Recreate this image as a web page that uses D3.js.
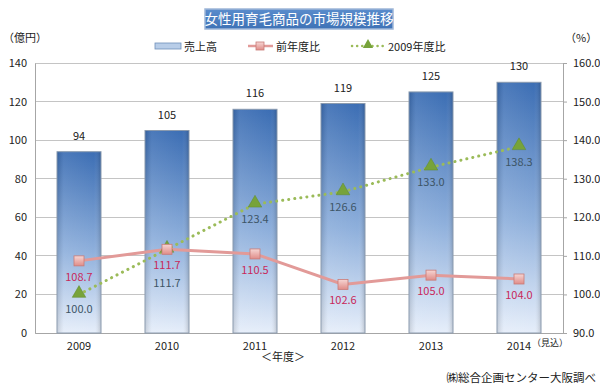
<!DOCTYPE html>
<html lang="ja">
<head>
<meta charset="UTF-8">
<title>女性用育毛商品の市場規模推移</title>
<script src="https://d3js.org/d3.v7.min.js"></script>
<style>
  body { margin: 0; background: #fff; font-family: "Noto Sans CJK JP", "Noto Sans", sans-serif; }
  svg text { font-family: "Noto Sans CJK JP", "Noto Sans", sans-serif; }
</style>
</head>
<body>
<script>
const years = ["2009", "2010", "2011", "2012", "2013", "2014"];
const sales = [94, 105, 116, 119, 125, 130];
const yoy = [108.7, 111.7, 110.5, 102.6, 105.0, 104.0];
const vs2009 = [100.0, 111.7, 123.4, 126.6, 133.0, 138.3];
const leftTicks = [0, 20, 40, 60, 80, 100, 120, 140];
const rightTicks = [90, 100, 110, 120, 130, 140, 150, 160];

const width = 600, height = 389;
const plot = { left: 35, right: 563, top: 63, bottom: 333 };

const svg = d3.select("body").append("svg")
  .attr("width", width)
  .attr("height", height);

const defs = svg.append("defs");
const barGrad = defs.append("linearGradient")
  .attr("id", "barGrad").attr("x1", 0).attr("y1", 0).attr("x2", 0).attr("y2", 1);
barGrad.append("stop").attr("offset", "0%").attr("stop-color", "#3c6eb4");
barGrad.append("stop").attr("offset", "55%").attr("stop-color", "#8fb0dc");
barGrad.append("stop").attr("offset", "100%").attr("stop-color", "#e6eefa");

const sideGrad = defs.append("linearGradient")
  .attr("id", "sideGrad").attr("x1", 0).attr("y1", 0).attr("x2", 1).attr("y2", 0);
sideGrad.append("stop").attr("offset", "0%").attr("stop-color", "#000").attr("stop-opacity", 0.12);
sideGrad.append("stop").attr("offset", "15%").attr("stop-color", "#fff").attr("stop-opacity", 0.08);
sideGrad.append("stop").attr("offset", "85%").attr("stop-color", "#fff").attr("stop-opacity", 0.0);
sideGrad.append("stop").attr("offset", "100%").attr("stop-color", "#000").attr("stop-opacity", 0.15);

const titleGrad = defs.append("linearGradient")
  .attr("id", "titleGrad").attr("x1", 0).attr("y1", 0).attr("x2", 0).attr("y2", 1);
titleGrad.append("stop").attr("offset", "0%").attr("stop-color", "#5a8ccc");
titleGrad.append("stop").attr("offset", "100%").attr("stop-color", "#3e72b6");

const sqGrad = defs.append("linearGradient")
  .attr("id", "sqGrad").attr("x1", 0).attr("y1", 0).attr("x2", 0).attr("y2", 1);
sqGrad.append("stop").attr("offset", "0%").attr("stop-color", "#f6d6d4");
sqGrad.append("stop").attr("offset", "100%").attr("stop-color", "#e08c88");

const x = d3.scaleBand().domain(years).range([plot.left, plot.right]).paddingInner(0.5).paddingOuter(0.25);
const xc = d => x(d) + x.bandwidth() / 2;
const yL = d3.scaleLinear().domain([0, 140]).range([plot.bottom, plot.top]);
const yR = d3.scaleLinear().domain([90, 160]).range([plot.bottom, plot.top]);

// gridlines
svg.append("g").selectAll("line")
  .data(leftTicks)
  .join("line")
  .attr("x1", plot.left).attr("x2", plot.right)
  .attr("y1", d => yL(d)).attr("y2", d => yL(d))
  .attr("stroke", "#c4c4c4").attr("stroke-width", 1)
  .attr("shape-rendering", "crispEdges");

// left axis
const leftAxis = svg.append("g")
  .attr("transform", `translate(${plot.left},0)`)
  .call(d3.axisLeft(yL).tickValues(leftTicks).tickSize(0).tickPadding(8));
leftAxis.select(".domain").attr("stroke", "#a6a6a6");
leftAxis.selectAll("text").attr("font-size", 11).attr("fill", "#222");

// right axis
const rightAxis = svg.append("g")
  .attr("transform", `translate(${plot.right},0)`)
  .call(d3.axisRight(yR).tickValues(rightTicks).tickSize(4).tickPadding(6).tickFormat(d3.format(".1f")));
rightAxis.select(".domain").attr("stroke", "#a6a6a6");
rightAxis.selectAll(".tick line").attr("stroke", "#a6a6a6");
rightAxis.selectAll("text").attr("font-size", 11).attr("fill", "#222");

// bottom axis
const bottomAxis = svg.append("g")
  .attr("transform", `translate(0,${plot.bottom})`)
  .call(d3.axisBottom(x).tickSize(0).tickPadding(9));
bottomAxis.select(".domain").attr("stroke", "#a6a6a6");
bottomAxis.selectAll("text").attr("font-size", 11).attr("fill", "#222");

// bars
const bars = svg.append("g");
bars.selectAll("rect.bar")
  .data(years)
  .join("rect")
  .attr("class", "bar")
  .attr("x", d => x(d))
  .attr("y", (d, i) => yL(sales[i]))
  .attr("width", x.bandwidth())
  .attr("height", (d, i) => plot.bottom - yL(sales[i]))
  .attr("fill", "url(#barGrad)")
  .attr("stroke", "#8a9aae").attr("stroke-width", 1);
bars.selectAll("rect.shade")
  .data(years)
  .join("rect")
  .attr("class", "shade")
  .attr("x", d => x(d) + 0.5)
  .attr("y", (d, i) => yL(sales[i]) + 0.5)
  .attr("width", x.bandwidth() - 1)
  .attr("height", (d, i) => plot.bottom - yL(sales[i]) - 1)
  .attr("fill", "url(#sideGrad)");
bars.selectAll("text")
  .data(years)
  .join("text")
  .attr("x", d => xc(d))
  .attr("y", (d, i) => yL(sales[i]) - 12)
  .attr("text-anchor", "middle")
  .attr("font-size", 11).attr("fill", "#222")
  .text((d, i) => sales[i]);

// 2009年度比 line (dotted)
const lineVs = d3.line().x((d, i) => xc(years[i])).y(d => yR(d));
svg.append("path")
  .datum(vs2009)
  .attr("d", lineVs)
  .attr("fill", "none")
  .attr("stroke", "#9bbb59").attr("stroke-width", 3)
  .attr("stroke-linecap", "round")
  .attr("stroke-dasharray", "0.1 6");

// 前年度比 line
const lineYoy = d3.line().x((d, i) => xc(years[i])).y(d => yR(d));
svg.append("path")
  .datum(yoy)
  .attr("d", lineYoy)
  .attr("fill", "none")
  .attr("stroke", "#e29a98").attr("stroke-width", 3);

const tri = d3.symbol().type(d3.symbolTriangle).size(80);
svg.append("g").selectAll("path")
  .data(vs2009)
  .join("path")
  .attr("d", tri)
  .attr("transform", (d, i) => `translate(${xc(years[i])},${yR(d) - 1})`)
  .attr("fill", "#77a33a").attr("stroke", "#5f8a2a").attr("stroke-width", 0.5);

svg.append("g").selectAll("rect")
  .data(yoy)
  .join("rect")
  .attr("x", (d, i) => xc(years[i]) - 5)
  .attr("y", d => yR(d) - 5)
  .attr("width", 10).attr("height", 10)
  .attr("fill", "url(#sqGrad)")
  .attr("stroke", "#c97a77").attr("stroke-width", 0.8);

// labels
svg.append("g").selectAll("text")
  .data(yoy)
  .join("text")
  .attr("x", (d, i) => xc(years[i]))
  .attr("y", d => yR(d) + 20)
  .attr("text-anchor", "middle")
  .attr("font-size", 11).attr("fill", "#c8285a")
  .text(d => d.toFixed(1));

svg.append("g").selectAll("text")
  .data(vs2009)
  .join("text")
  .attr("x", (d, i) => xc(years[i]))
  .attr("y", (d, i) => yR(d) + (vs2009[i] === yoy[i] ? 38 : 19))
  .attr("text-anchor", "middle")
  .attr("font-size", 11).attr("fill", "#3d5566")
  .text(d => d.toFixed(1));

// title
svg.append("rect")
  .attr("x", 205).attr("y", 9).attr("width", 188).attr("height", 20)
  .attr("fill", "url(#titleGrad)")
  .attr("stroke", "#9fb7d8").attr("stroke-width", 1.5);
svg.append("text")
  .attr("x", 299).attr("y", 24)
  .attr("text-anchor", "middle")
  .attr("font-size", 13.5).attr("fill", "#fff")
  .text("女性用育毛商品の市場規模推移");

// legend
const lg = svg.append("g").attr("font-size", 11).attr("fill", "#222");
lg.append("rect").attr("x", 155).attr("y", 43).attr("width", 26).attr("height", 6)
  .attr("fill", "#b8cde8").attr("stroke", "#6f8fba").attr("stroke-width", 0.8);
lg.append("text").attr("x", 184).attr("y", 51).text("売上高");
lg.append("line").attr("x1", 248).attr("x2", 273).attr("y1", 46).attr("y2", 46)
  .attr("stroke", "#e29a98").attr("stroke-width", 2.5);
lg.append("rect").attr("x", 256).attr("y", 42).attr("width", 8).attr("height", 8)
  .attr("fill", "url(#sqGrad)").attr("stroke", "#c97a77").attr("stroke-width", 0.8);
lg.append("text").attr("x", 276).attr("y", 51).text("前年度比");
lg.append("line").attr("x1", 352).attr("x2", 384).attr("y1", 46).attr("y2", 46)
  .attr("stroke", "#9bbb59").attr("stroke-width", 2.5)
  .attr("stroke-linecap", "round").attr("stroke-dasharray", "0.1 5");
lg.append("path").attr("d", d3.symbol().type(d3.symbolTriangle).size(45))
  .attr("transform", "translate(368,45)").attr("fill", "#77a33a");
lg.append("text").attr("x", 388).attr("y", 51).text("2009年度比");

// axis titles & notes
svg.append("text").attr("x", 3).attr("y", 42).attr("font-size", 11).attr("fill", "#222").text("（億円）");
svg.append("text").attr("x", 565).attr("y", 42).attr("font-size", 11).attr("fill", "#222").text("（%）");
svg.append("text").attr("x", 283).attr("y", 361).attr("text-anchor", "middle")
  .attr("font-size", 11).attr("fill", "#222").text("＜年度＞");
svg.append("text").attr("x", xc("2014") + 13).attr("y", 346)
  .attr("font-size", 9).attr("fill", "#222").text("（見込）");
svg.append("text").attr("x", 596).attr("y", 382).attr("text-anchor", "end")
  .attr("font-size", 11.5).attr("fill", "#222").text("㈱総合企画センター大阪調べ");
</script>
</body>
</html>
